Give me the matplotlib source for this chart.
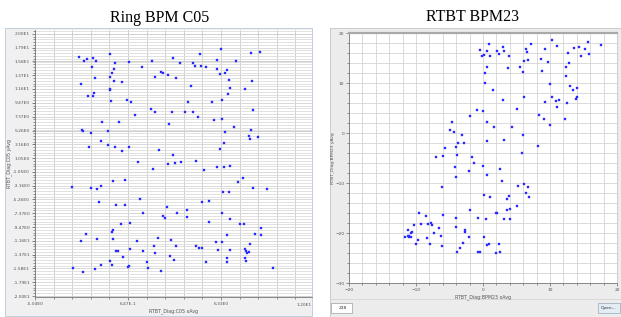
import matplotlib
matplotlib.use('Agg')
import numpy as np
import matplotlib.pyplot as plt
from matplotlib.patches import Rectangle
from matplotlib.ticker import FixedLocator, MultipleLocator

W, H = 621, 317

# ---- Ring BPM C05 : RTBT_Diag:C05 xAvg / yAvg ----
c05_x = [-2.35, -2.04, -1.88, -1.47, -1.33, -0.45, -1.58, -0.17, -0.21, -0.31,
         -0.45, -1.39, -0.21, 0.26, -2.25, -0.45, -0.45, -1.41, -1.51, -1.80,
         -0.39, 0.61, 0.81, 0.73, 1.52, 2.13, 2.68, 2.79, 2.28, 3.11,
         3.58, 3.38, 3.85, 5.05, 4.64, 4.74, 5.11, 5.39, 6.31, 6.09,
         6.11, 6.25, 6.58, 6.68, 7.25, 6.80, 6.86, 6.78, 8.15, 8.70,
         8.23, 7.78, 6.39, 5.80, 4.48, 4.31, 2.07, 2.30, 3.36, 4.15,
         4.62, 4.93, 5.92, 6.41, 8.29, 1.07, -0.94, 0.12, 3.13, 7.13,
         -2.17, -2.11, -1.60, -0.60, -0.98, -0.56, -0.13, 0.30, 0.71, -1.72,
         6.60, 8.17, 8.02, 8.08, 8.59, 6.54, 6.29, 2.52, 3.40,
         1.26, 3.07, 3.50, 3.91, 4.82, 2.19, 5.29, 6.09, 6.54, 6.88,
         -2.80, -1.64, -1.23, -1.00, -0.25, 0.46, 7.37, 7.70, 8.27, 9.14,
         6.48, 6.84, -1.13, -0.11, 0.48, 1.38, 3.01, 5.19, 5.62, 1.58,
         2.77, 2.89, 3.64, 4.25, 4.27, 6.37, 6.86, 5.58, 0.22, 0.75,
         -0.29, -0.33, -1.92, -2.23, -1.27, -0.29, 1.22, 2.50, 3.26, 2.22,
         3.60, 0.77, -0.09, 0.03, 1.58, 2.28, 0.36, -0.45, -0.35, -1.00,
         -1.39, -2.13, -2.70, 0.63, 0.69, 1.79, 1.87, 2.66, 3.23, 3.48,
         4.99, 5.15, 5.44, 6.03, 6.37, 6.13, 6.72, 6.88, 7.49, 7.76,
         8.76, 8.39, 8.78, 8.13, 7.82, 7.86, 7.94, 8.02, 7.82, 7.84,
         6.70, 6.68, 9.49, 4.82]
c05_y = [16.44, 15.88, 16.18, 16.34, 15.88, 16.95, 14.91, 15.52, 14.66, 14.00,
         13.38, 13.23, 12.88, 12.72, 12.37, 11.60, 11.45, 11.04, 10.59, 10.48,
         9.82, 9.97, 9.67, 15.67, 14.96, 15.88, 14.25, 14.05, 13.38, 13.69,
         13.23, 16.29, 15.52, 16.90, 15.52, 15.17, 15.17, 14.96, 17.76, 15.98,
         14.66, 13.89, 14.10, 14.50, 15.88, 12.93, 11.81, 10.89, 17.05, 17.20,
         12.88, 11.60, 9.92, 9.67, 12.01, 9.67, 8.60, 8.14, 8.04, 8.14,
         8.14, 7.33, 6.92, 7.07, 8.40, 7.68, 6.51, 6.51, 6.26, 5.75,
         5.34, 5.19, 4.83, 5.24, 3.66, 3.10, 2.70, 2.19, 2.80, 2.80,
         4.99, 5.29, 4.48, 3.97, 4.33, 3.31, 2.44, 2.34, 1.53,
         0.51, 0.15, 0.25, 0.40, 0.56, -0.66, -0.72, -0.36, -0.26, -0.11,
         -3.31, -3.46, -3.72, -3.26, -2.50, -2.29, -2.65, -2.04, -3.51, -3.67,
         -4.07, -4.07, -5.65, -6.11, -6.11, -5.14, -6.47, -5.60, -5.50, -7.28,
         -7.74, -8.15, -7.33, -6.87, -7.99, -7.33, -8.30, -8.65, -8.96, -8.81,
         -9.93, -10.23, -10.54, -11.56, -11.25, -11.25, -11.56, -11.15, -11.40, -12.37,
         -12.42, -12.78, -13.08, -13.13, -13.08, -13.49, -14.10, -14.66, -15.27, -15.32,
         -15.83, -16.34, -15.73, -15.63, -15.42, -14.86, -15.73, -16.13, -13.85, -14.46,
         -12.73, -12.67, -14.76, -11.76, -11.76, -12.93, -10.74, -12.93, -8.96, -9.01,
         -9.62, -10.54, -10.74, -12.01, -12.88, -13.13, -13.49, -13.34, -14.25, -14.66,
         -14.25, -14.86, -15.78, -12.37]
c05_xlabels = ['-5.04E0', '6.47E-1', '6.33E0']
c05_ylabels = ['2.00E1', '1.79E1', '1.58E1', '1.37E1', '1.16E1', '9.47E0', '7.37E0',
               '5.26E0', '3.16E0', '1.05E0', '-1.05E0', '-3.16E0', '-5.26E0',
               '-7.37E0', '-9.47E0', '-1.16E1', '-1.37E1', '-1.58E1', '-1.79E1', '-2.00E1']

# ---- RTBT BPM23 : RTBT_Diag:BPM23 xAvg / yAvg ----
b23_x = [-0.45, 0.95, -0.15, 0.15, 0.60, 1.09, 2.09, 2.39, 2.99, 3.13,
         3.88, 3.68, 5.47, 6.42, 6.57, 6.77, 7.16, 6.17, 5.92, 0.60,
         0.35, 0.30, 1.44, 3.03, 6.17, 5.12, 8.61, 8.86, 9.20, 9.70,
         10.35, 11.00, 9.25, 10.00, 10.35, 10.95, 11.09, 11.29, 8.36, 9.15,
         9.95, 12.29, 12.34, 12.39, 12.49, 12.79, 12.74, 12.99, 13.58, 14.28,
         14.63, 15.27, 15.72, 15.87, 17.66, 13.43, 13.98, 13.83, 13.98,
         -0.85, 0.00, -1.99, 0.60, 1.64, -4.68, -4.93, -4.28, -3.13, -3.68,
         -4.03, -2.84, -5.62, -3.83, -7.06, -5.92, -1.64, 0.55, 3.13, 4.38,
         5.97, 5.82, 8.16,
         -4.18, -1.34, 0.00, 2.49, -2.09, 0.60, -4.03, 2.79, -6.12, 0.10,
         1.04, 3.63, 3.88, 5.17, 6.07, 6.77, 6.37, 6.87, 3.63, 4.03,
         5.02, -1.89, -0.70, 0.50, 1.99, 2.14, 3.13, 4.03, -9.55, -8.46,
         -8.16, -7.71, -7.66, -6.02, -6.52, -6.32, -3.98, -3.98, -2.64, -2.64,
         -2.14, 0.10, 0.60, 0.85, -0.70, -0.45, 1.89, 2.44, 2.59, -2.94,
         -3.48, -3.93, -6.07, -7.36, -7.96, -8.31, -9.30, -10.25, -9.65, -10.00,
         -11.19, -10.75, -10.60, -10.70, -11.24, -11.59, -11.00, -11.09]
b23_y = [16.67, 17.80, 15.47, 15.67, 16.53, 15.53, 16.47, 15.80, 17.20, 16.53,
         15.47, 13.13, 13.33, 16.93, 16.33, 14.67, 17.87, 14.40, 12.20, 13.33,
         12.13, 10.00, 8.67, 6.73, 7.33, 4.87, 14.80, 12.53, 16.93, 14.27,
         18.73, 17.53, 6.20, 9.87, 7.33, 6.47, 5.33, 6.67, 3.60, 2.87,
         1.73, 2.80, 11.47, 13.33, 6.07, 14.00, 16.07, 9.47, 17.00, 17.20,
         15.40, 16.87, 18.33, 15.93, 17.60, 8.60, 9.07, 6.93, 7.20,
         4.60, 4.53, 3.53, 2.20, 1.20, 2.20, 0.67, 0.20, -0.27, -2.00,
         -2.73, -2.00, -3.00, -4.33, -4.67, -4.53, -4.73, -1.47, -1.33, 1.33,
         -0.40, -4.00, -2.53,
         -6.67, -5.87, -6.53, -7.13, -7.47, -8.40, -8.67, -9.53, -10.67, -12.27,
         -12.80, -13.13, -12.53, -10.53, -10.20, -10.73, -12.00, -12.73, -15.33, -15.13,
         -14.60, -15.40, -16.93, -17.07, -16.00, -16.00, -17.07, -17.13, -15.93, -16.60,
         -18.07, -17.87, -18.40, -16.27, -19.00, -20.47, -16.87, -18.67, -19.27, -19.67,
         -20.80, -20.80, -22.40, -22.20, -23.80, -23.73, -24.00, -22.07, -23.80, -21.87,
         -22.87, -23.73, -22.47, -20.00, -22.07, -20.87, -18.20, -18.33, -21.40, -22.20,
         -19.33, -20.00, -19.73, -20.67, -20.47, -20.73, -20.60, -20.67]
b23_xticks = [-20, -10, 0, 10, 20]
b23_yticks = [20, 10, 0, -10, -20, -30]


def box(x0, y0, x1, y1):
    return [x0 / W, 1 - y1 / H, (x1 - x0) / W, (y1 - y0) / H]


def panel(fig, x0, y0, x1, y1, face, edge, z=-5):
    fig.patches.append(Rectangle((x0 / W, 1 - y1 / H), (x1 - x0) / W, (y1 - y0) / H,
                                 transform=fig.transFigure, facecolor=face,
                                 edgecolor=edge, linewidth=0.6, zorder=z))


fig = plt.figure(figsize=(W / 100, H / 100), dpi=100)
fig.patch.set_facecolor('white')
tick_kw = dict(labelsize=3.2, labelcolor='#555555', color='#666666', length=2, width=0.5, pad=1.5)
mark_kw = dict(color='#1010ff', markersize=2.0, markeredgewidth=0.3, markeredgecolor='#5050ff')

# ---------------- left: Ring BPM C05 ----------------
panel(fig, 5, 28, 312, 316, '#f0f0f0', '#b7c8dc')
fig.text(160 / W, 1 - 18 / H, 'Ring BPM C05', ha='center', va='center',
         family='Liberation Serif', fontsize=11.5)
ax1 = fig.add_axes(box(35, 30, 312, 297))
ax1.set_facecolor('white')
ax1.set_xlim(-5.04, 11.90)
ax1.set_ylim(-20.15, 20.6)
ax1.xaxis.set_major_locator(FixedLocator([-5.04, 0.647, 6.334]))
ax1.set_xticklabels(c05_xlabels)
ax1.xaxis.set_minor_locator(FixedLocator(np.arange(-5.04, 12.5, 5.687 / 5)))
c05_yvals = [float(s) for s in c05_ylabels]
ax1.yaxis.set_major_locator(FixedLocator(c05_yvals))
ax1.set_yticklabels(c05_ylabels)
ax1.yaxis.set_minor_locator(FixedLocator(np.arange(-20.0, 20.6, 40 / 19 / 5)))
ax1.grid(which='minor', axis='y', color='#dcdcdc', linewidth=0.6)
ax1.grid(which='major', axis='y', color='#c8c8c8', linewidth=0.6)
ax1.grid(which='both', axis='x', color='#cacaca', linewidth=0.6)
ax1.tick_params(which='both', **tick_kw)
ax1.tick_params(which='minor', length=1.2)
ax1.set_axisbelow(True)
for s in ['top', 'right']:
    ax1.spines[s].set_visible(False)
for s in ['left', 'bottom']:
    ax1.spines[s].set_color('#777777')
    ax1.spines[s].set_linewidth(0.6)
ax1.plot(c05_x, c05_y, 's', **mark_kw)
fig.text(312 / W, 1 - 305 / H, '1.20E1', ha='right', va='center', fontsize=3.2, color='#555555')
ax1.set_xlabel('RTBT_Diag:C05 xAvg', fontsize=3.4, color='#555555', labelpad=1.5)
fig.text(9 / W, 1 - 163 / H, 'RTBT_Diag:C05 yAvg', rotation=90, ha='center', va='center',
         fontsize=3.4, color='#555555')

# ---------------- right: RTBT BPM23 ----------------
panel(fig, 330, 28, 621, 317, '#ececec', '#c4c4c4')
fig.text(472 / W, 1 - 17 / H, 'RTBT BPM23', ha='center', va='center',
         family='Liberation Serif', fontsize=11.5)
fig.text(475 / W, 1 - 29.5 / H, '- - - - - - - - - - - - - - - - - - - - - - - - - -',
         ha='center', va='center', fontsize=3, color='#b0b0b0')
ax2 = fig.add_axes(box(349, 33.3, 617, 283.3))
ax2.set_facecolor('white')
ax2.set_xlim(-20, 20)
ax2.set_ylim(-30, 20)
ax2.set_xticks(b23_xticks)
ax2.set_yticks(b23_yticks)
ax2.xaxis.set_minor_locator(MultipleLocator(2))
ax2.yaxis.set_minor_locator(MultipleLocator(2))
ax2.grid(which='both', color='#d4d4d4', linewidth=0.6)
ax2.tick_params(which='both', **tick_kw)
ax2.tick_params(which='minor', length=1.2)
ax2.set_axisbelow(True)
for s in ['left', 'bottom']:
    ax2.spines[s].set_color('#777777')
    ax2.spines[s].set_linewidth(0.6)
ax2.spines['top'].set_color('#a8a8a8')
ax2.spines['top'].set_linewidth(1.6)
ax2.spines['right'].set_color('#c8c8c8')
ax2.spines['right'].set_linewidth(0.6)
ax2.plot(b23_x, b23_y, 's', **mark_kw)
ax2.set_xlabel('RTBT_Diag:BPM23 xAvg', fontsize=3.4, color='#555555', labelpad=1.5)
fig.text(333 / W, 1 - 158 / H, 'RTBT_Diag:BPM23 yAvg', rotation=90, ha='center', va='center',
         fontsize=3.2, color='#555555')

# bottom controls of the right panel
fig.add_artist(plt.Line2D([330 / W, 621 / W], [1 - 299 / H, 1 - 299 / H],
                          color='#d6d6d6', linewidth=0.6, zorder=-4))
fig.patches.append(Rectangle((331 / W, 1 - 313 / H), 21 / W, 10 / H, transform=fig.transFigure,
                             facecolor='white', edgecolor='#a0a0a0', linewidth=0.5, zorder=-3))
fig.text(343 / W, 1 - 308 / H, '238', ha='center', va='center', fontsize=3.2, color='#333333')
fig.patches.append(Rectangle((598 / W, 1 - 313 / H), 22 / W, 10 / H, transform=fig.transFigure,
                             facecolor='#e4ecf4', edgecolor='#9aa8b8', linewidth=0.5, zorder=-3))
fig.text(609 / W, 1 - 308 / H, 'Open...', ha='center', va='center', fontsize=3.2, color='#333333')

fig.savefig('out.png', dpi=100)
